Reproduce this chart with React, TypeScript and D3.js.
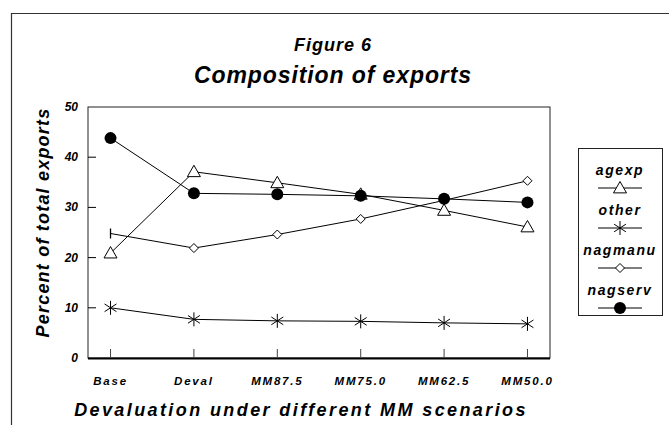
import * as d3 from 'd3';

const categories = ['Base', 'Deval', 'MM87.5', 'MM75.0', 'MM62.5', 'MM50.0'];
const yTicks = [0, 10, 20, 30, 40, 50];

const agexp = [20.9, 37.1, 34.9, 32.6, 29.4, 26.1];
const other = [10.0, 7.7, 7.4, 7.3, 7.0, 6.8];
const nagmanu = [24.8, 21.9, 24.6, 27.7, 31.4, 35.3];
const nagserv = [43.8, 32.8, 32.6, 32.3, 31.7, 31.0];

const seriesNames = ['agexp', 'other', 'nagmanu', 'nagserv'];

const FONT = '"Liberation Sans", Arial, sans-serif';

const W = 669;
const H = 425;
const margin = { top: 107, right: 119, bottom: 67, left: 88 };

function Marker({ kind, x, y }: { kind: string; x: number; y: number }) {
    if (kind === 'agexp') {
        const s = 6.5;
        return (
            <path
                d={`M${x},${y - s} L${x + s},${y + s * 0.75} L${x - s},${y + s * 0.75} Z`}
                fill="white"
                stroke="black"
                strokeWidth={1}
            />
        );
    }
    if (kind === 'other') {
        const s = 7;
        const dx = s * 0.85;
        const dy = s * 0.55;
        return (
            <path
                d={`M${x},${y - s} L${x},${y + s} M${x - dx},${y - dy} L${x + dx},${y + dy} M${x - dx},${y + dy} L${x + dx},${y - dy}`}
                stroke="black"
                strokeWidth={1}
            />
        );
    }
    if (kind === 'nagmanu') {
        const s = 4.5;
        return (
            <path
                d={`M${x},${y - s} L${x + s},${y} L${x},${y + s} L${x - s},${y} Z`}
                fill="white"
                stroke="black"
                strokeWidth={1}
            />
        );
    }
    if (kind === 'nagmanu-tick') {
        return <path d={`M${x},${y - 5} L${x},${y + 5}`} stroke="black" strokeWidth={1.3} />;
    }
    return <circle cx={x} cy={y} r={6} fill="black" />;
}

export default function App() {
    const x = d3
        .scalePoint<string>()
        .domain(categories)
        .range([margin.left, W - margin.right])
        .padding(0.27);

    const y = d3
        .scaleLinear()
        .domain([0, 50])
        .range([H - margin.bottom, margin.top]);

    const line = d3
        .line<number>()
        .x((_, i) => x(categories[i]) as number)
        .y(d => y(d));

    const data: Record<string, number[]> = { agexp, other, nagmanu, nagserv };

    const plotL = margin.left;
    const plotR = W - margin.right;
    const plotT = margin.top;
    const plotB = H - margin.bottom;

    // legend
    const legX = 578;
    const legY = 148;
    const legW = 84;
    const legH = 167;
    const legCx = legX + legW / 2;

    const bi = { fontFamily: FONT, fontWeight: 'bold', fontStyle: 'italic' } as const;

    return (
        <div style={{ position: 'fixed', left: 0, top: 0 }}>
            <svg width={W} height={H} style={{ display: 'block', background: 'white' }}>
                {/* outer frame */}
                <path d={`M11.5,${H} L11.5,13.5 L${W},13.5`} fill="none" stroke="#333" strokeWidth={1.2} />

                <g {...bi} textAnchor="middle">
                    <text x={333} y={51} fontSize={18} letterSpacing={1}>Figure 6</text>
                    <text x={333} y={83} fontSize={23} letterSpacing={0.9}>Composition of exports</text>
                </g>

                {/* plot box */}
                <rect x={plotL} y={plotT} width={plotR - plotL} height={plotB - plotT} fill="none" stroke="#222" strokeWidth={1} />
                <line x1={plotL} x2={plotR} y1={plotB + 0.5} y2={plotB + 0.5} stroke="black" strokeWidth={2} />

                {/* y ticks */}
                {yTicks.map(t => (
                    <g key={t}>
                        {t > 0 && t < 50 && (
                            <line x1={plotL} x2={plotL + 8} y1={y(t)} y2={y(t)} stroke="black" strokeWidth={1} />
                        )}
                        <text x={plotL - 10} y={y(t) + 4} textAnchor="end" {...bi} fontSize={12}>
                            {t}
                        </text>
                    </g>
                ))}

                {/* x ticks and labels */}
                {categories.map(c => (
                    <g key={c}>
                        <line x1={x(c)} x2={x(c)} y1={plotB} y2={plotB - 9} stroke="#444" strokeWidth={1} />
                        <text x={x(c)} y={plotB + 27} textAnchor="middle" {...bi} fontSize={11.5} letterSpacing={1.8}>
                            {c}
                        </text>
                    </g>
                ))}

                {/* axis titles */}
                <text x={301} y={416} textAnchor="middle" {...bi} fontSize={18} letterSpacing={2.4}>
                    Devaluation under different MM scenarios
                </text>
                <text
                    transform={`translate(49,${(plotT + plotB) / 2 - 10}) rotate(-90)`}
                    textAnchor="middle"
                    {...bi}
                    fontSize={18}
                    letterSpacing={1.2}
                >
                    Percent of total exports
                </text>

                {/* series */}
                {seriesNames.map(name => (
                    <path key={name} d={line(data[name]) as string} fill="none" stroke="black" strokeWidth={1} />
                ))}
                {seriesNames.map(name =>
                    data[name].map((v, i) => (
                        <Marker
                            key={name + i}
                            kind={name === 'nagmanu' && i === 0 ? 'nagmanu-tick' : name}
                            x={x(categories[i]) as number}
                            y={y(v)}
                        />
                    ))
                )}

                {/* legend */}
                <rect x={legX + 0.5} y={legY + 0.5} width={legW} height={legH} fill="white" stroke="#222" strokeWidth={1} />
                {seriesNames.map((name, i) => {
                    const ly = legY + 27 + i * 40;
                    return (
                        <g key={name}>
                            <text x={legCx} y={ly} textAnchor="middle" {...bi} fontSize={14} letterSpacing={1.6}>
                                {name}
                            </text>
                            <line x1={legCx - 22} x2={legCx + 22} y1={ly + 13} y2={ly + 13} stroke="black" strokeWidth={1} />
                            <Marker kind={name} x={legCx} y={ly + 13} />
                        </g>
                    );
                })}
            </svg>
        </div>
    );
}
